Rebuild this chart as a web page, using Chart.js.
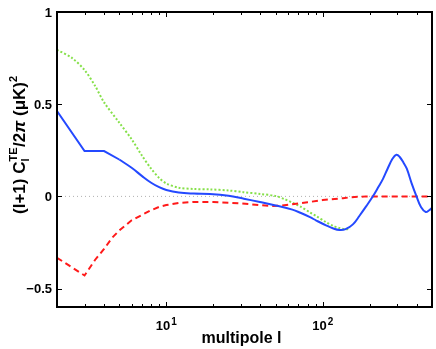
<!DOCTYPE html>
<html>
<head>
<meta charset="utf-8">
<script src="https://cdn.jsdelivr.net/npm/chart.js@4/dist/chart.umd.min.js"></script>
<style>
  html, body { margin: 0; padding: 0; background: #fff; }
  canvas { display: block; }
</style>
</head>
<body>
<canvas id="c" width="436" height="349"></canvas>
<script>
// ---- data (multipole l, value in (muK)^2) ----
// blue series: low-l part sampled at integer l (straight segments), then the smooth part
const blueLowL = [2, 3, 4, 5];
const blueLowV = [0.463, 0.246, 0.246, 0.200];
const blueL = [5, 6, 7, 8, 9, 10, 12, 15, 19, 25, 31, 39, 50, 64, 72, 83, 91, 105, 117, 128, 140, 156, 172, 190, 210, 225, 243, 260, 280, 296, 310, 330, 345, 370, 398, 425, 456, 480, 500];
const blueV = [0.200, 0.155, 0.110, 0.074, 0.050, 0.035, 0.021, 0.015, 0.0125, 0.003, -0.012, -0.029, -0.049, -0.072, -0.089, -0.113, -0.131, -0.157, -0.174, -0.182, -0.178, -0.152, -0.105, -0.053, 0.002, 0.045, 0.095, 0.150, 0.205, 0.226, 0.215, 0.180, 0.150, 0.072, 0.000, -0.058, -0.085, -0.075, -0.062];

const greenL = [2, 2.5, 3, 3.5, 4, 5, 6, 7, 8, 9, 10, 12, 15, 19, 25, 31, 40, 50, 57, 64, 72, 83, 91, 105, 117, 128, 140, 150];
const greenV = [0.795, 0.750, 0.685, 0.600, 0.510, 0.400, 0.310, 0.220, 0.150, 0.100, 0.070, 0.047, 0.040, 0.038, 0.032, 0.023, 0.013, 0.002, -0.015, -0.034, -0.055, -0.087, -0.107, -0.140, -0.160, -0.172, -0.178, -0.175];

const redL = [2, 3, 3.5, 4, 4.5, 5, 6, 7, 8, 9, 10, 12, 15, 20, 30, 40, 46, 55, 64, 80, 100, 135, 150, 190, 250, 500];
const redV = [-0.333, -0.429, -0.345, -0.285, -0.225, -0.185, -0.130, -0.100, -0.075, -0.057, -0.047, -0.036, -0.030, -0.030, -0.038, -0.048, -0.052, -0.050, -0.043, -0.032, -0.020, -0.010, -0.005, 0.0, 0.0, 0.0];

const zeroL = [2, 500];
const zeroV = [0, 0];

const xTickVals = [2, 3, 4, 5, 6, 7, 8, 9, 10, 20, 30, 40, 50, 60, 70, 80, 90, 100, 200, 300, 400, 500];
const xMajor = [10, 100];
const xMajorLabels = [["10", "1"], ["10", "2"]];
const yTickVals = [-0.5, 0, 0.5, 1];
const yTickLabels = ["\u22120.5", "0", "0.5", "1"];
const xTitle = "multipole l";

const pts = (L, V) => L.map((l, i) => ({ x: l, y: V[i] }));
const FONT = "'Liberation Sans', Arial, Helvetica, sans-serif";
const BLUE = '#2449ff';

const framePlugin = {
  id: 'frame',
  afterDatasetsDraw(chart) {
    const { ctx, chartArea: a, scales: { x, y } } = chart;
    ctx.save();
    ctx.strokeStyle = '#000';
    ctx.lineWidth = 1;
    const seg = (x1, y1, x2, y2) => { ctx.beginPath(); ctx.moveTo(x1, y1); ctx.lineTo(x2, y2); ctx.stroke(); };
    xTickVals.forEach(v => {
      const px = Math.round(x.getPixelForValue(v)) + 0.5;
      const len = xMajor.includes(v) ? 5 : 3;
      seg(px, a.bottom, px, a.bottom - len);
      seg(px, a.top, px, a.top + len);
    });
    yTickVals.forEach(v => {
      const py = Math.round(y.getPixelForValue(v)) + 0.5;
      seg(a.left, py, a.left + 5, py);
      seg(a.right, py, a.right - 5, py);
    });
    ctx.lineWidth = 2;
    ctx.strokeRect(a.left, a.top, a.right - a.left, a.bottom - a.top);

    // y tick labels
    ctx.fillStyle = '#000';
    ctx.font = 'bold 13px ' + FONT;
    ctx.textAlign = 'right';
    ctx.textBaseline = 'middle';
    yTickVals.forEach((v, i) => {
      ctx.fillText(yTickLabels[i], a.left - 5, y.getPixelForValue(v) + 1);
    });

    // x tick labels with superscripts
    ctx.textBaseline = 'alphabetic';
    ctx.textAlign = 'left';
    xMajor.forEach((v, i) => {
      const [base, sup] = xMajorLabels[i];
      ctx.font = 'bold 13px ' + FONT;
      const wb = ctx.measureText(base).width;
      ctx.font = 'bold 10px ' + FONT;
      const ws = ctx.measureText(sup).width;
      const cx = x.getPixelForValue(v);
      const x0 = cx - (wb + 1 + ws) / 2;
      ctx.font = 'bold 13px ' + FONT;
      ctx.fillText(base, x0, a.bottom + 22.5);
      ctx.font = 'bold 10px ' + FONT;
      ctx.fillText(sup, x0 + wb + 1, a.bottom + 18);
    });

    // x title
    ctx.font = 'bold 16px ' + FONT;
    ctx.textAlign = 'center';
    ctx.fillText(xTitle, (a.left + a.right) / 2 - 3, a.bottom + 36);

    // y title: (l+1) C_l^TE/2π (μK)^2
    ctx.translate(25, 214);
    ctx.rotate(-Math.PI / 2);
    ctx.textAlign = 'left';
    let cx = 0;
    const big = 'bold 17px ' + FONT, small = 'bold 11px ' + FONT;
    const put = (t, f, dy) => { ctx.font = f; ctx.fillText(t, cx, dy); return ctx.measureText(t).width; };
    cx += put('(l+1) C', big, 0);
    const w1 = (ctx.font = small, ctx.measureText('l').width);
    put('l', small, 4);
    const w2 = put('TE', small, -8);
    cx += Math.max(w1, w2) + 0.5;
    cx += put('/2', big, 0);
    cx += put('\u03C0', 'italic bold 17px ' + FONT, 0);
    cx += put(' (\u03BCK)', big, 0);
    put('2', small, -8);
    ctx.restore();
  }
};

new Chart(document.getElementById('c'), {
  type: 'line',
  data: {
    datasets: [
      { data: pts(blueLowL, blueLowV), borderColor: BLUE, borderWidth: 2, pointRadius: 0, tension: 0 },
      { data: pts(blueL, blueV), borderColor: BLUE, borderWidth: 2, pointRadius: 0, tension: 0.4 },
      { data: pts(redL, redV), borderColor: '#ff1a1a', borderWidth: 2, borderDash: [6, 4], pointRadius: 0, tension: 0 },
      { data: pts(greenL, greenV), borderColor: '#86e04a', borderWidth: 2, borderDash: [2, 2], pointRadius: 0, tension: 0.3 },
      { data: pts(zeroL, zeroV), borderColor: '#b0b0b0', borderWidth: 1, borderDash: [1, 3], pointRadius: 0 }
    ]
  },
  options: {
    responsive: false,
    devicePixelRatio: 1,
    animation: false,
    layout: { padding: { left: 57, top: 12, right: 4, bottom: 42 } },
    plugins: { legend: { display: false }, tooltip: { enabled: false } },
    scales: {
      x: { type: 'logarithmic', min: 2, max: 500, display: false },
      y: { type: 'linear', min: -0.6, max: 1, display: false }
    }
  },
  plugins: [framePlugin]
});
</script>
</body>
</html>
